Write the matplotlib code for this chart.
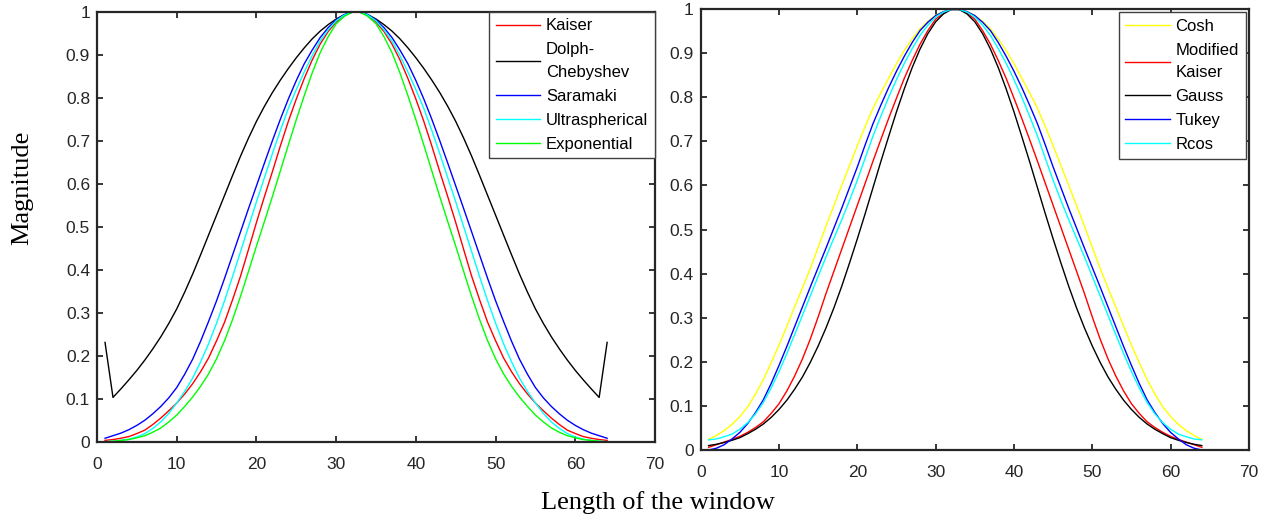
import matplotlib as mpl
mpl.use('Agg')
import numpy as np
import matplotlib.pyplot as plt

plt.rcParams['font.family'] = ['Liberation Sans', 'DejaVu Sans']

# sample index along the window (N = 64)
n = np.arange(1, 65)

#--- left panel ---#
kaiser = [0.003, 0.005, 0.008, 0.012, 0.019, 0.027, 0.040, 0.055, 0.072, 0.090, 0.111, 0.135, 0.163, 0.195, 0.235, 0.278,
          0.330, 0.385, 0.447, 0.510, 0.570, 0.628, 0.688, 0.745, 0.797, 0.845, 0.888, 0.925, 0.954, 0.976, 0.991, 0.999,
          0.999, 0.991, 0.976, 0.954, 0.925, 0.888, 0.845, 0.797, 0.745, 0.688, 0.628, 0.570, 0.510, 0.447, 0.385, 0.330,
          0.278, 0.235, 0.195, 0.163, 0.135, 0.111, 0.090, 0.072, 0.055, 0.040, 0.027, 0.019, 0.012, 0.008, 0.005, 0.003]
dolph = [0.231, 0.103, 0.123, 0.144, 0.166, 0.190, 0.216, 0.244, 0.275, 0.309, 0.348, 0.390, 0.435, 0.481, 0.527, 0.573,
         0.619, 0.664, 0.706, 0.745, 0.780, 0.812, 0.841, 0.868, 0.893, 0.916, 0.937, 0.955, 0.970, 0.983, 0.993, 0.999,
         0.999, 0.993, 0.983, 0.970, 0.955, 0.937, 0.916, 0.893, 0.868, 0.841, 0.812, 0.780, 0.745, 0.706, 0.664, 0.619,
         0.573, 0.527, 0.481, 0.435, 0.390, 0.348, 0.309, 0.275, 0.244, 0.216, 0.190, 0.166, 0.144, 0.123, 0.103, 0.231]
saramaki = [0.008, 0.014, 0.020, 0.028, 0.038, 0.050, 0.065, 0.082, 0.102, 0.126, 0.157, 0.192, 0.234, 0.280, 0.328, 0.380,
            0.434, 0.488, 0.542, 0.595, 0.648, 0.700, 0.750, 0.797, 0.840, 0.879, 0.911, 0.940, 0.963, 0.981, 0.993, 0.999,
            0.999, 0.993, 0.981, 0.963, 0.940, 0.911, 0.879, 0.840, 0.797, 0.750, 0.700, 0.648, 0.595, 0.542, 0.488, 0.434,
            0.380, 0.328, 0.280, 0.234, 0.192, 0.157, 0.126, 0.102, 0.082, 0.065, 0.050, 0.038, 0.028, 0.020, 0.014, 0.008]
ultrasph = [0.000, 0.001, 0.003, 0.006, 0.011, 0.019, 0.031, 0.046, 0.066, 0.090, 0.117, 0.148, 0.186, 0.228, 0.276, 0.328,
            0.384, 0.442, 0.500, 0.558, 0.614, 0.670, 0.724, 0.775, 0.819, 0.860, 0.898, 0.932, 0.958, 0.979, 0.992, 0.999,
            0.999, 0.992, 0.979, 0.958, 0.932, 0.898, 0.860, 0.819, 0.775, 0.724, 0.670, 0.614, 0.558, 0.500, 0.442, 0.384,
            0.328, 0.276, 0.228, 0.186, 0.148, 0.117, 0.090, 0.066, 0.046, 0.031, 0.019, 0.011, 0.006, 0.003, 0.001, 0.000]
expo = [0.000, 0.001, 0.003, 0.005, 0.009, 0.014, 0.022, 0.032, 0.046, 0.062, 0.082, 0.104, 0.129, 0.158, 0.193, 0.235,
        0.284, 0.338, 0.396, 0.455, 0.512, 0.570, 0.630, 0.690, 0.749, 0.805, 0.858, 0.905, 0.942, 0.972, 0.989, 0.999,
        0.999, 0.989, 0.972, 0.942, 0.905, 0.858, 0.805, 0.749, 0.690, 0.630, 0.570, 0.512, 0.455, 0.396, 0.338, 0.284,
        0.235, 0.193, 0.158, 0.129, 0.104, 0.082, 0.062, 0.046, 0.032, 0.022, 0.014, 0.009, 0.005, 0.003, 0.001, 0.000]

#--- right panel ---#
cosh = [0.024, 0.033, 0.044, 0.058, 0.076, 0.098, 0.127, 0.160, 0.198, 0.238, 0.281, 0.325, 0.368, 0.412, 0.460, 0.508,
        0.554, 0.600, 0.645, 0.690, 0.734, 0.775, 0.810, 0.843, 0.876, 0.906, 0.932, 0.955, 0.972, 0.986, 0.994, 0.999,
        0.999, 0.994, 0.986, 0.972, 0.955, 0.932, 0.906, 0.876, 0.843, 0.810, 0.775, 0.734, 0.690, 0.645, 0.600, 0.554,
        0.508, 0.460, 0.412, 0.368, 0.325, 0.281, 0.238, 0.198, 0.160, 0.127, 0.098, 0.076, 0.058, 0.044, 0.033, 0.024]
modkaiser = [0.006, 0.012, 0.018, 0.024, 0.031, 0.040, 0.051, 0.064, 0.083, 0.105, 0.134, 0.168, 0.207, 0.252, 0.302, 0.355,
             0.405, 0.455, 0.505, 0.555, 0.605, 0.655, 0.704, 0.752, 0.798, 0.843, 0.883, 0.920, 0.951, 0.977, 0.991, 0.999,
             0.999, 0.991, 0.977, 0.951, 0.920, 0.883, 0.843, 0.798, 0.752, 0.704, 0.655, 0.605, 0.555, 0.505, 0.455, 0.405,
             0.355, 0.302, 0.252, 0.207, 0.168, 0.134, 0.105, 0.083, 0.064, 0.051, 0.040, 0.031, 0.024, 0.018, 0.012, 0.006]
gauss = [0.010, 0.013, 0.017, 0.022, 0.028, 0.037, 0.047, 0.059, 0.074, 0.092, 0.113, 0.138, 0.166, 0.199, 0.236, 0.277,
         0.322, 0.371, 0.424, 0.479, 0.536, 0.595, 0.654, 0.711, 0.767, 0.819, 0.867, 0.909, 0.944, 0.971, 0.989, 0.999,
         0.999, 0.989, 0.971, 0.944, 0.909, 0.867, 0.819, 0.767, 0.711, 0.654, 0.595, 0.536, 0.479, 0.424, 0.371, 0.322,
         0.277, 0.236, 0.199, 0.166, 0.138, 0.113, 0.092, 0.074, 0.059, 0.047, 0.037, 0.028, 0.022, 0.017, 0.013, 0.010]
tukey = [0.000, 0.004, 0.012, 0.025, 0.040, 0.060, 0.085, 0.114, 0.151, 0.192, 0.235, 0.280, 0.325, 0.370, 0.414, 0.458,
         0.503, 0.548, 0.595, 0.642, 0.692, 0.740, 0.782, 0.822, 0.859, 0.893, 0.924, 0.951, 0.970, 0.985, 0.994, 0.999,
         0.999, 0.994, 0.985, 0.970, 0.951, 0.924, 0.893, 0.859, 0.822, 0.782, 0.740, 0.692, 0.642, 0.595, 0.548, 0.503,
         0.458, 0.414, 0.370, 0.325, 0.280, 0.235, 0.192, 0.151, 0.114, 0.085, 0.060, 0.040, 0.025, 0.012, 0.004, 0.000]
rcos = [0.023, 0.025, 0.030, 0.036, 0.047, 0.062, 0.082, 0.108, 0.141, 0.178, 0.219, 0.262, 0.306, 0.350, 0.394, 0.438,
        0.480, 0.522, 0.566, 0.612, 0.662, 0.712, 0.757, 0.800, 0.840, 0.877, 0.910, 0.940, 0.963, 0.982, 0.993, 0.999,
        0.999, 0.993, 0.982, 0.963, 0.940, 0.910, 0.877, 0.840, 0.800, 0.757, 0.712, 0.662, 0.612, 0.566, 0.522, 0.480,
        0.438, 0.394, 0.350, 0.306, 0.262, 0.219, 0.178, 0.141, 0.108, 0.082, 0.062, 0.047, 0.036, 0.030, 0.025, 0.023]

left_series = [(kaiser, 'Kaiser', '#ff0000'),
               (dolph, 'Dolph-\nChebyshev', '#000000'),
               (saramaki, 'Saramaki', '#0000ff'),
               (ultrasph, 'Ultraspherical', '#00ffff'),
               (expo, 'Exponential', '#00ff00')]
right_series = [(cosh, 'Cosh', '#ffff00'),
                (modkaiser, 'Modified\nKaiser', '#ff0000'),
                (gauss, 'Gauss', '#000000'),
                (tukey, 'Tukey', '#0000ff'),
                (rcos, 'Rcos', '#00ffff')]

xticks = [0, 10, 20, 30, 40, 50, 60, 70]
yticks = [0, 0.1, 0.2, 0.3, 0.4, 0.5, 0.6, 0.7, 0.8, 0.9, 1]
yticklabels = ['0', '0.1', '0.2', '0.3', '0.4', '0.5', '0.6', '0.7', '0.8', '0.9', '1']

fig = plt.figure(figsize=(12.72, 5.21), dpi=100)
ax1 = fig.add_axes([0.0763, 0.1522, 0.4386, 0.8253])
ax2 = fig.add_axes([0.5509, 0.1363, 0.4309, 0.8464])

axcol = '#262626'
for ax, series, bpad in ((ax1, left_series, 0.0), (ax2, right_series, 0.2)):
    for vals, lab, col in series:
        ax.plot(n, vals, color=col, lw=1.0, label=lab)
    ax.set_xlim(0, 70)
    ax.set_ylim(0, 1)
    ax.set_xticks(xticks)
    ax.set_yticks(yticks)
    ax.set_yticklabels(yticklabels)
    ax.tick_params(direction='in', length=4, width=1.3, top=True, right=True,
                   labelsize=12.5, colors=axcol)
    ax.tick_params(axis='x', pad=11)
    ax.tick_params(axis='y', pad=5)
    for sp in ax.spines.values():
        sp.set_linewidth(1.6)
        sp.set_color(axcol)
    leg = ax.legend(loc='upper right', fontsize=12, borderaxespad=bpad,
                    handlelength=2.65, handletextpad=0.35, labelspacing=0.54,
                    borderpad=0.4, fancybox=False, framealpha=1,
                    edgecolor='#404040')
    leg.get_frame().set_linewidth(1.0)
    for t in leg.get_texts():
        t.set_linespacing(1.6)

fig.text(0.0175, 0.64, 'Magnitude', rotation=90, ha='center', va='center',
         family=['Liberation Serif', 'DejaVu Serif'], fontsize=19)
fig.text(0.517, 0.035, 'Length of the window', ha='center', va='center',
         family=['Liberation Serif', 'DejaVu Serif'], fontsize=19)

fig.savefig('out.png', dpi=100)
